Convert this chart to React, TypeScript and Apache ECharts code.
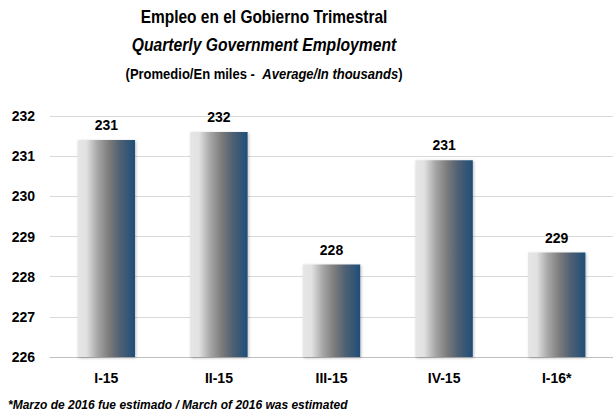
import React, { useEffect, useRef } from "react";
import * as echarts from "echarts";

const categories = ["I-15", "II-15", "III-15", "IV-15", "I-16*"];
const values = [231.4, 231.6, 228.3, 230.9, 228.6];
const yMin = 226;
const yMax = 232;
const yInterval = 1;

const titleLine1 = "Empleo en el Gobierno Trimestral";
const titleLine2 = "Quarterly Government Employment";
const subtitleEs = "(Promedio/En miles -  ";
const subtitleEn = "Average/In thousands";
const footnote = "*Marzo de 2016 fue estimado / March of 2016 was estimated";

const FONT = "'Liberation Sans', Arial, sans-serif";

export default function App() {
  const ref = useRef<HTMLDivElement>(null);
  useEffect(() => {
    if (!ref.current) return;
    const chart = echarts.init(ref.current, null, { renderer: "svg" });
    const gradient = new echarts.graphic.LinearGradient(0, 0, 1, 0, [
      { offset: 0, color: "#e6e6e6" },
      { offset: 0.15, color: "#e2e2e2" },
      { offset: 0.35, color: "#a6a6a6" },
      { offset: 0.55, color: "#7b7b7b" },
      { offset: 0.75, color: "#4d5f72" },
      { offset: 1, color: "#1f4e79" },
    ]);
    chart.setOption({
      animation: false,
      backgroundColor: "#ffffff",
      textStyle: { fontFamily: FONT },
      graphic: [
        {
          type: "text",
          x: 264,
          y: 17,
          scaleX: 0.86,
          style: { text: titleLine1, font: `bold 18px ${FONT}`, fill: "#000", align: "center", verticalAlign: "middle" },
        },
        {
          type: "text",
          x: 264,
          y: 45,
          scaleX: 0.87,
          style: { text: titleLine2, font: `italic bold 18px ${FONT}`, fill: "#000", align: "center", verticalAlign: "middle" },
        },
        {
          type: "text",
          x: 264,
          y: 74,
          scaleX: 0.93,
          style: {
            text: `{a|${subtitleEs}}{b|${subtitleEn}}{a|)}`,
            align: "center",
            verticalAlign: "middle",
            rich: {
              a: { font: `bold 14px ${FONT}`, fill: "#000" },
              b: { font: `italic bold 14px ${FONT}`, fill: "#000" },
            },
          },
        },
        {
          type: "text",
          x: 8,
          y: 405,
          style: { text: footnote, font: `italic bold 12px ${FONT}`, fill: "#000", verticalAlign: "middle" },
        },
      ],
      grid: { left: 50, right: 0, top: 116, bottom: 63, containLabel: false },
      xAxis: {
        type: "category",
        data: categories,
        axisLine: { show: true, lineStyle: { color: "#bfbfbf", width: 1 } },
        axisTick: { show: false },
        axisLabel: { color: "#000", fontWeight: "bold", fontSize: 14, margin: 14, fontFamily: FONT },
      },
      yAxis: {
        type: "value",
        min: yMin,
        max: yMax,
        interval: yInterval,
        axisLine: { show: false },
        axisTick: { show: false },
        splitLine: { lineStyle: { color: "#d9d9d9", width: 1 } },
        axisLabel: { color: "#000", fontWeight: "bold", fontSize: 14, margin: 15, fontFamily: FONT },
      },
      series: [
        {
          type: "bar",
          data: values,
          barWidth: "51%",
          itemStyle: {
            color: gradient,
            shadowColor: "rgba(0,0,0,0.25)",
            shadowBlur: 3,
            shadowOffsetX: 1,
            shadowOffsetY: 1,
          },
          label: {
            show: true,
            position: "top",
            distance: 8,
            color: "#000",
            fontWeight: "bold",
            fontSize: 14,
            fontFamily: FONT,
            formatter: (p: any) => Math.round(p.value).toString(),
          },
        },
      ],
    });
    return () => chart.dispose();
  }, []);
  return <div ref={ref} style={{ width: 613, height: 420, position: "absolute", left: 0, top: 0 }} />;
}
